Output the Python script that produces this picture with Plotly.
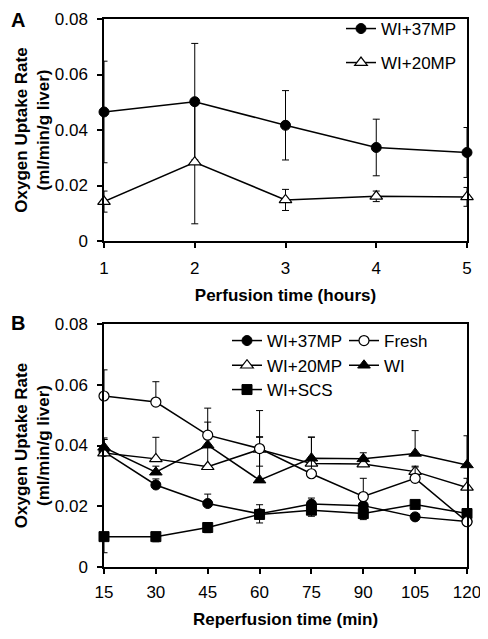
import plotly.graph_objects as go

FONT = "Liberation Sans, Arial, sans-serif"

# ---- Panel A data ----
hours = [1, 2, 3, 4, 5]
a_wi37 = [0.0465, 0.0502, 0.0417, 0.0337, 0.0319]
a_wi37_err = [0.0183, 0.0210, 0.0125, 0.0102, 0.0090]
a_wi20 = [0.0142, 0.0284, 0.0148, 0.0161, 0.0159]
a_wi20_err = [0.0038, 0.0222, 0.0038, 0.0019, 0.0034]
a_ticks_x = [1, 2, 3, 4, 5]

# ---- Panel B data ----
minutes = [15, 30, 45, 60, 75, 90, 105, 120]
b_wi37 = [0.0380, 0.0270, 0.0209, 0.0175, 0.0207, 0.0202, 0.0165, 0.0150]
b_wi37_plus = [0.0040, 0.0020, 0.0031, 0.0030, 0.0020, 0.0030, 0.0000, 0.0000]
b_fresh = [0.0563, 0.0543, 0.0434, 0.0390, 0.0307, 0.0232, 0.0292, 0.0149]
b_fresh_plus = [0.0086, 0.0067, 0.0089, 0.0125, 0.0120, 0.0060, 0.0040, 0.0020]
b_wi20 = [0.0375, 0.0356, 0.0330, 0.0387, 0.0341, 0.0339, 0.0314, 0.0262]
b_wi20_plus = [0.0050, 0.0071, 0.0070, 0.0040, 0.0020, 0.0020, 0.0015, 0.0030]
b_wi20_minus = [0.0, 0.0, 0.0, 0.0055, 0.0, 0.0, 0.0, 0.0]
b_wi = [0.0394, 0.0312, 0.0401, 0.0286, 0.0358, 0.0356, 0.0374, 0.0336]
b_wi_plus = [0.0026, 0.0020, 0.0076, 0.0143, 0.0070, 0.0020, 0.0075, 0.0096]
b_scs = [0.0100, 0.0100, 0.0130, 0.0173, 0.0187, 0.0176, 0.0206, 0.0176]
b_scs_minus = [0.0053, 0.0017, 0.0017, 0.0028, 0.0020, 0.0020, 0.0010, 0.0010]

y_tickvals = [0, 0.02, 0.04, 0.06, 0.08]
y_ticktext = ["0", "0.02", "0.04", "0.06", "0.08"]

# The page body has an 8px default margin; pixel positions below are
# given in window coordinates and converted to figure coordinates.
OFF = 8
W, H = 488 - OFF, 639 - 2 * OFF
PL, PR = 104 - OFF, 467 - OFF          # plot left / right (figure px)
A_TOP, A_BOT = 19 - OFF, 241 - OFF
B_TOP, B_BOT = 324 - OFF, 567 - OFF
mt, mb = A_TOP, H - B_BOT
ph = H - mt - mb


def py(p):
    return (H - mb - (p - OFF)) / ph


def px(p):
    return ((p - OFF) - PL) / (PR - PL)


domA = [py(241), 1.0]
domB = [0.0, py(324)]

fig = go.Figure()

LINE = dict(color="black", width=1.5)


def err(plus, minus=None):
    d = dict(type="data", array=plus, visible=True, color="black",
             thickness=1, width=3.5)
    if minus is None:
        d["symmetric"] = True
    else:
        d["symmetric"] = False
        d["arrayminus"] = minus
    return d


filled_circle = dict(symbol="circle", size=10, color="black",
                     line=dict(color="black", width=1))
open_circle = dict(symbol="circle", size=10, color="white",
                   line=dict(color="black", width=1.2))
open_tri = dict(symbol="triangle-up", size=11, color="white",
                line=dict(color="black", width=1.2))
filled_tri = dict(symbol="triangle-up", size=11, color="black",
                  line=dict(color="black", width=1))
filled_sq = dict(symbol="square", size=10, color="black",
                 line=dict(color="black", width=1))
zeros = [0] * len(minutes)

# Panel A
fig.add_trace(go.Scatter(x=hours, y=a_wi37, mode="lines+markers", name="WI+37MP",
                         line=LINE, marker=filled_circle, error_y=err(a_wi37_err),
                         xaxis="x", yaxis="y", legend="legend", cliponaxis=False))
fig.add_trace(go.Scatter(x=hours, y=a_wi20, mode="lines+markers", name="WI+20MP",
                         line=LINE, marker=open_tri, error_y=err(a_wi20_err),
                         xaxis="x", yaxis="y", legend="legend2", cliponaxis=False))

# Panel B
fig.add_trace(go.Scatter(x=minutes, y=b_scs, mode="lines+markers", name="WI+SCS",
                         line=LINE, marker=filled_sq,
                         error_y=err(zeros, b_scs_minus),
                         xaxis="x2", yaxis="y2", legend="legend5", cliponaxis=False))
fig.add_trace(go.Scatter(x=minutes, y=b_wi37, mode="lines+markers", name="WI+37MP",
                         line=LINE, marker=filled_circle,
                         error_y=err(b_wi37_plus, zeros),
                         xaxis="x2", yaxis="y2", legend="legend3", cliponaxis=False))
fig.add_trace(go.Scatter(x=minutes, y=b_wi20, mode="lines+markers", name="WI+20MP",
                         line=LINE, marker=open_tri,
                         error_y=err(b_wi20_plus, b_wi20_minus),
                         xaxis="x2", yaxis="y2", legend="legend4", cliponaxis=False))
fig.add_trace(go.Scatter(x=minutes, y=b_wi, mode="lines+markers", name="WI",
                         line=LINE, marker=filled_tri,
                         error_y=err(b_wi_plus, zeros),
                         xaxis="x2", yaxis="y2", legend="legend4", cliponaxis=False))
fig.add_trace(go.Scatter(x=minutes, y=b_fresh, mode="lines+markers", name="Fresh",
                         line=LINE, marker=open_circle,
                         error_y=err(b_fresh_plus, zeros),
                         xaxis="x2", yaxis="y2", legend="legend3", cliponaxis=False))

axis_common = dict(showline=True, linecolor="black", linewidth=1.5, mirror=True,
                   ticks="outside", ticklen=5, tickwidth=1.5, tickcolor="black",
                   showgrid=False, zeroline=False, ticklabeloverflow="allow",
                   tickfont=dict(size=17, color="black", family=FONT))

title_font = dict(size=17, color="black", family=FONT)
ytitle_font = dict(size=17, color="black", family=FONT)


def leg(x, y):
    return dict(x=x, y=y, xanchor="left", yanchor="middle", orientation="h",
                bgcolor="rgba(0,0,0,0)", borderwidth=0, entrywidth=72,
                itemwidth=30, font=dict(size=17, color="black", family=FONT))


fig.update_layout(
    width=W, height=H,
    margin=dict(l=PL, r=W - PR, t=mt, b=mb, autoexpand=False),
    paper_bgcolor="white", plot_bgcolor="white",
    font=dict(family=FONT, color="black"),
    showlegend=True,
    xaxis=dict(axis_common, domain=[0, 1], anchor="y", range=[1, 5],
               tickvals=a_ticks_x, ticklabelstandoff=6,
               title=dict(text="<b>Perfusion time (hours)</b>", font=title_font, standoff=12)),
    yaxis=dict(axis_common, domain=domA, anchor="x", range=[0, 0.08],
               tickvals=y_tickvals, ticktext=y_ticktext, ticklabelstandoff=6,
               title=dict(text="<b>Oxygen Uptake Rate<br>(ml/min/g liver)</b>",
                          font=ytitle_font, standoff=1)),
    xaxis2=dict(axis_common, domain=[0, 1], anchor="y2", range=[15, 120],
                tickvals=minutes, ticklabelstandoff=4,
                title=dict(text="<b>Reperfusion time (min)</b>", font=title_font, standoff=12)),
    yaxis2=dict(axis_common, domain=domB, anchor="x2", range=[0, 0.08],
                tickvals=y_tickvals, ticktext=y_ticktext, ticklabelstandoff=6,
                title=dict(text="<b>Oxygen Uptake Rate<br>(ml/min/g liver)</b>",
                           font=ytitle_font, standoff=1)),
    legend=leg(px(341), py(29)),
    legend2=leg(px(341), py(63)),
    legend3=leg(px(227), py(341)),
    legend4=leg(px(227), py(365.7)),
    legend5=leg(px(227), py(390)),
    annotations=[
        dict(text="<b>A</b>", x=px(18), y=py(20), xref="paper", yref="paper",
             showarrow=False, font=dict(size=20, color="black", family=FONT),
             xanchor="center", yanchor="middle"),
        dict(text="<b>B</b>", x=px(18), y=py(323), xref="paper", yref="paper",
             showarrow=False, font=dict(size=20, color="black", family=FONT),
             xanchor="center", yanchor="middle"),
    ],
)

fig.write_html("out.html")
